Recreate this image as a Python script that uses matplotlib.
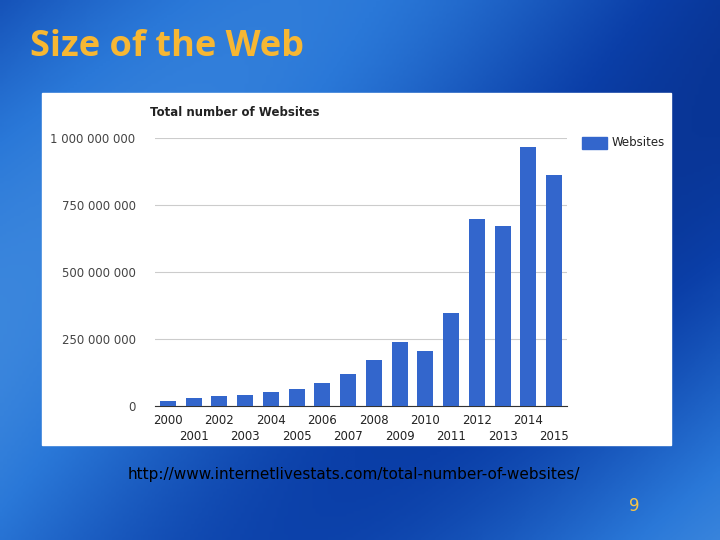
import numpy as np
import matplotlib.pyplot as plt
from matplotlib.patches import Rectangle
from matplotlib.colors import LinearSegmentedColormap

years = list(range(2000, 2016))
websites = [17e6, 29e6, 38e6, 40e6, 51e6, 64e6, 85e6, 121e6, 172e6, 238e6,
            207e6, 347e6, 697e6, 672e6, 968e6, 863e6]
yticks = [0, 250e6, 500e6, 750e6, 1000e6]
ylabels = ['0', '250 000 000', '500 000 000', '750 000 000', '1 000 000 000']

W, H = 720, 540
fig = plt.figure(figsize=(7.2, 5.4), dpi=100)

# blue slide background
bg = fig.add_axes([0, 0, 1, 1])
cmap = LinearSegmentedColormap.from_list('slide', ['#04206e', '#0b3fa8', '#2a78d8', '#5aa0e6'])
yy, xx = np.mgrid[0:1:200j, 0:1:200j]
val = 0.45 + 0.25 * np.sin(4 * xx + 3 * yy) + 0.15 * yy
bg.imshow(val, cmap=cmap, vmin=0, vmax=1, extent=[0, 1, 0, 1], aspect='auto')
bg.set_xlim(0, 1); bg.set_ylim(0, 1); bg.axis('off')
bg.add_patch(Rectangle((42 / W, 1 - 445 / H), (671 - 42) / W, (445 - 93) / H,
                       color='white', zorder=2))
fig.text(30 / W, 1 - 47 / H, 'Size of the Web', fontsize=26, color='#f7b733',
         weight='bold', family='Open Sans', va='center')
fig.text(128 / W, 1 - 474 / H, 'http://www.internetlivestats.com/total-number-of-websites/',
         fontsize=11, color='black', va='center')
fig.text(634 / W, 1 - 506 / H, '9', fontsize=12, color='#f7c548', ha='center', va='center')
fig.text(150 / W, 1 - 113 / H, 'Total number of Websites', fontsize=8.5, weight='bold',
         color='#222222', va='center')

ax = fig.add_axes([155 / W, 1 - 406 / H, (567 - 155) / W, (406 - 138) / H])
ax.bar(years, websites, width=0.62, color='#3366cc', zorder=3)
ax.set_xlim(1999.5, 2015.5)
ax.set_ylim(0, 1000e6)
ax.set_yticks(yticks)
ax.set_yticklabels(ylabels, fontsize=8.5, color='#444444')
ax.grid(axis='y', color='#cccccc', lw=0.8, zorder=0)
ax.tick_params(axis='y', length=0, pad=14)
for s in ['top', 'right', 'left']:
    ax.spines[s].set_visible(False)
ax.spines['bottom'].set_color('#333333')
even = [y for y in years if y % 2 == 0]
odd = [y for y in years if y % 2 == 1]
ax.set_xticks(even)
ax.set_xticklabels([str(y) for y in even], fontsize=8.5, color='#222222')
ax.set_xticks(odd, minor=True)
ax.set_xticklabels([str(y) for y in odd], minor=True, fontsize=8.5, color='#222222')
ax.tick_params(axis='x', which='major', length=0, pad=6)
ax.tick_params(axis='x', which='minor', length=0, pad=17)
ax.set_facecolor('none')

bg.add_patch(Rectangle((582 / W, 1 - 149 / H), 25 / W, 12 / H, color='#3366cc', zorder=3))
fig.text(612 / W, 1 - 143 / H, 'Websites', fontsize=8.5, color='#222222', va='center')

fig.savefig('out.png', dpi=100)
